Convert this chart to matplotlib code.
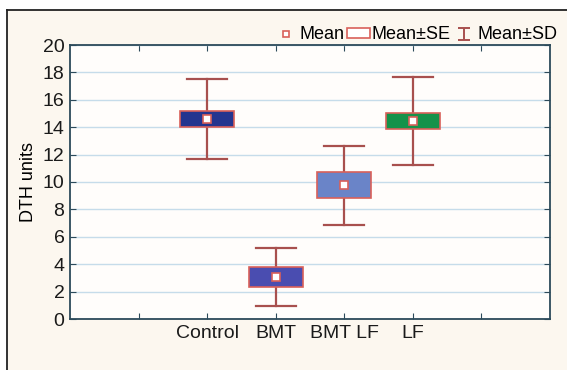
import matplotlib.pyplot as plt
from matplotlib.lines import Line2D
from matplotlib.patches import Rectangle
from matplotlib.path import Path

plt.rcParams['font.family'] = ['Liberation Sans Narrow', 'Liberation Sans', 'DejaVu Sans']
plt.rcParams['font.size'] = 14

groups = ['Control', 'BMT', 'BMT LF', 'LF']
means = [14.6, 3.05, 9.75, 14.45]
se = [0.55, 0.75, 0.95, 0.6]
sd = [2.9, 2.1, 2.9, 3.2]
box_colors = ['#24358f', '#4a4db0', '#6a84c8', '#15924a']

edge_col = '#d9605a'
whisk_col = '#a8504e'

fig = plt.figure(figsize=(5.67, 3.70), dpi=100, facecolor='white')
# cream panel with top/left black border
bg = Rectangle((7 / 567, 0), 1, 1 - 10 / 370, transform=fig.transFigure,
               facecolor='#fcf7ef', edgecolor='none', zorder=-10)
fig.patches.append(bg)
fig.add_artist(Line2D([7 / 567, 7 / 567], [0, 1 - 10 / 370], color='#222222', lw=1.3,
                      transform=fig.transFigure))
fig.add_artist(Line2D([7 / 567, 1], [1 - 10 / 370, 1 - 10 / 370], color='#222222', lw=1.3,
                      transform=fig.transFigure))

ax = fig.add_axes([70 / 567, 1 - 319 / 370, 480 / 567, 274 / 370])
ax.set_facecolor('#fffdfb')

pos = [2, 3, 4, 5]
for x, m, s, d, c in zip(pos, means, se, sd, box_colors):
    ax.plot([x, x], [m - d, m + d], color=whisk_col, lw=1.6, zorder=2)
    ax.plot([x - 0.29, x + 0.29], [m + d, m + d], color=whisk_col, lw=1.6, zorder=2)
    ax.plot([x - 0.29, x + 0.29], [m - d, m - d], color=whisk_col, lw=1.6, zorder=2)
    ax.bar(x, 2 * s, bottom=m - s, width=0.79, color=c, edgecolor=edge_col, lw=1.2, zorder=3)
    ax.plot(x, m, 's', ms=6, mfc='white', mec=edge_col, mew=1.2, zorder=4)

ax.set_xlim(0, 7)
ax.set_ylim(0, 20)
ax.set_yticks(range(0, 21, 2))
ax.set_xticks(range(1, 7))
ax.set_xticklabels(['', 'Control', 'BMT', 'BMT LF', 'LF', ''])
ax.yaxis.grid(True, color='#c6dcea', lw=1)
ax.set_axisbelow(True)
ax.tick_params(direction='in', length=4, color='#2c4a5a', top=True, right=True,
               labelcolor='#1a1a1a', pad=4)
for sp in ax.spines.values():
    sp.set_color('#2c4a5a')
    sp.set_linewidth(1.3)
ax.set_ylabel('DTH units', fontsize=13, labelpad=4)

# legend
sd_marker = Path([(-1, 1), (1, 1), (0, 1), (0, -1), (-1, -1), (1, -1)],
                 [Path.MOVETO, Path.LINETO, Path.MOVETO, Path.LINETO, Path.MOVETO, Path.LINETO])
handles = [
    Line2D([], [], marker='s', ls='none', ms=4.5, mfc='white', mec=edge_col, mew=1.2),
    Rectangle((0, 0), 1, 1, facecolor='white', edgecolor=edge_col, lw=1.2),
    Line2D([], [], marker=sd_marker, ls='none', ms=8, mec=whisk_col, mew=1.4),
]
fig.legend(handles, ['Mean', 'Mean±SE', 'Mean±SD'], loc='upper right',
           bbox_to_anchor=(1.003, 0.958), ncol=3, frameon=False, fontsize=13,
           handlelength=1.3, handleheight=0.5, handletextpad=0.1, columnspacing=0.1,
           borderpad=0.1)

fig.savefig('out.png', dpi=100)
